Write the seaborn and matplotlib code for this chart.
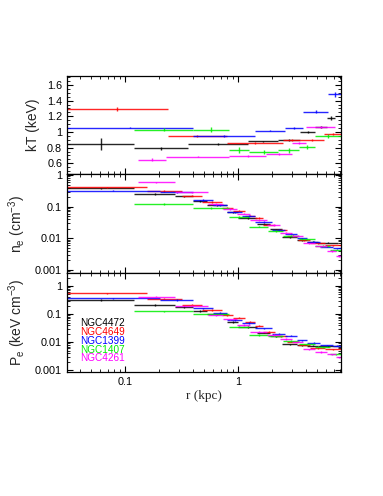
import numpy as np
import matplotlib
matplotlib.use("Agg")
import matplotlib.pyplot as plt
import matplotlib.ticker as mticker
import seaborn as sns

# ---------------- data ----------------
galaxies = ["NGC4472", "NGC4649", "NGC1399", "NGC1407", "NGC4261"]
colors = ["#000000", "#ff0000", "#0000ff", "#00ee00", "#ff00ff"]

# temperature profiles: bin edges (kpc), kT (keV), error
kt_edges = {
    "NGC4472": [0.0305, 0.121, 0.363, 1.233, 2.274, 3.54, 4.80, 6.1, 7.2],
    "NGC4649": [0.0305, 0.239, 0.794, 2.5, 3.54, 5.77, 8.17],
    "NGC1399": [0.0305, 0.402, 1.414, 2.606, 3.78, 6.30, 8.17],
    "NGC1407": [0.121, 0.40, 0.838, 1.259, 2.274, 3.486, 4.80, 8.17],
    "NGC4261": [0.1295, 0.2307, 0.838, 1.77, 2.987, 4.0, 7.21],
}
kt_vals = {
    "NGC4472": [0.843, 0.79, 0.843, 0.88, 0.898, 1.003, 1.065, 1.175],
    "NGC4649": [1.29, 0.949, 0.863, 0.894, 0.90, 0.97],
    "NGC1399": [1.055, 0.952, 1.016, 1.05, 1.26, 1.48],
    "NGC1407": [1.03, 1.03, 0.77, 0.745, 0.766, 0.804, 0.949],
    "NGC4261": [0.646, 0.685, 0.69, 0.715, 0.86, 1.06],
}
kt_errs = {
    "NGC4472": [0.075, 0.015, 0.01, 0.01, 0.012, 0.01, 0.012, 0.025],
    "NGC4649": [0.025, 0.01, 0.015, 0.012, 0.015, 0.015],
    "NGC1399": [0.01, 0.01, 0.01, 0.01, 0.015, 0.035],
    "NGC1407": [0.02, 0.03, 0.04, 0.025, 0.03, 0.025, 0.02],
    "NGC4261": [0.02, 0.01, 0.01, 0.015, 0.012, 0.015],
}

# density / pressure profiles: bin edges (kpc), n_e (cm^-3), P_e (keV cm^-3)
ne_edges = {
    "NGC4472": [0.0305, 0.121, 0.277, 0.40, 0.532, 0.80, 1.0, 1.473, 1.919, 2.45, 3.327, 4.08, 5.10, 7.67],
    "NGC4649": [0.0305, 0.1556, 0.3175, 0.4773, 0.717, 0.903, 1.153, 1.414, 1.664, 2.126, 2.716, 3.396, 4.337, 5.89, 8.17],
    "NGC1399": [0.0305, 0.204, 0.40, 0.601, 0.80, 1.085, 1.414, 2.0, 2.606, 3.327, 4.08, 5.32, 6.93, 8.17],
    "NGC1407": [0.121, 0.40, 0.832, 1.251, 1.843, 2.5, 3.466, 4.80, 6.52, 8.17],
    "NGC4261": [0.1295, 0.2768, 0.543, 0.736, 0.98, 1.277, 1.806, 2.353, 3.005, 3.76, 4.80, 6.13, 7.36, 8.17],
}
ne_vals = {
    "NGC4472": [0.38, 0.25, 0.21, 0.15, 0.11, 0.065, 0.043, 0.029, 0.019, 0.011, 0.0085, 0.0077, 0.0072],
    "NGC4649": [0.41, 0.31, 0.22, 0.138, 0.093, 0.075, 0.052, 0.044, 0.027, 0.018, 0.012, 0.0085, 0.007, 0.006],
    "NGC1399": [0.32, 0.28, 0.16, 0.113, 0.065, 0.05, 0.033, 0.018, 0.014, 0.010, 0.0075, 0.0054, 0.0048],
    "NGC1407": [0.12, 0.091, 0.047, 0.023, 0.017, 0.012, 0.0091, 0.0057, 0.0041],
    "NGC4261": [0.59, 0.28, 0.12, 0.085, 0.06, 0.037, 0.026, 0.015, 0.012, 0.0068, 0.0055, 0.0039, 0.0027],
}
pe_vals = {
    "NGC4472": [0.32, 0.21, 0.18, 0.13, 0.10, 0.052, 0.035, 0.022, 0.016, 0.0085, 0.0078, 0.0074, 0.0072],
    "NGC4649": [0.55, 0.35, 0.21, 0.14, 0.09, 0.075, 0.054, 0.039, 0.024, 0.016, 0.0105, 0.0082, 0.0062, 0.0055],
    "NGC1399": [0.36, 0.32, 0.16, 0.11, 0.062, 0.048, 0.031, 0.02, 0.017, 0.0118, 0.0095, 0.0078, 0.0076],
    "NGC1407": [0.127, 0.097, 0.036, 0.018, 0.016, 0.011, 0.0085, 0.0066, 0.0037],
    "NGC4261": [0.42, 0.2, 0.09, 0.065, 0.041, 0.024, 0.018, 0.013, 0.0103, 0.0055, 0.0045, 0.0037, 0.0029],
}

REL_ERR = 0.05  # drawing style for the small vertical error ticks on log panels

# ---------------- style ----------------
sns.set_theme(style="ticks")
plt.rcParams["font.family"] = ["Liberation Sans", "DejaVu Sans"]
plt.rcParams.update({
    "xtick.direction": "in", "ytick.direction": "in",
    "xtick.top": True, "ytick.right": True,
    "xtick.major.size": 4.5, "ytick.major.size": 4.5,
    "xtick.minor.size": 2.3, "ytick.minor.size": 2.3,
    "xtick.major.width": 0.8, "ytick.major.width": 0.8,
    "xtick.minor.width": 0.6, "ytick.minor.width": 0.6,
    "axes.linewidth": 0.9, "axes.edgecolor": "black",
    "xtick.labelsize": 7.8, "ytick.labelsize": 7.8,
    "xtick.color": "black", "ytick.color": "black",
})

fig = plt.figure(figsize=(3.83, 4.96), dpi=100)
left, right = 67 / 383, 341 / 383
tops = [76, 174, 273]
bots = [174, 273, 372]
axes = []
for t, b in zip(tops, bots):
    ax = fig.add_axes([left, 1 - b / 496, right - left, (b - t) / 496])
    axes.append(ax)


def draw(ax, edges, vals, yerr, color):
    e = np.asarray(edges, float)
    v = np.asarray(vals, float)
    lo, hi = e[:-1], e[1:]
    c = np.sqrt(lo * hi)
    ax.errorbar(c, v, xerr=[c - lo, hi - c], yerr=yerr, fmt="none",
                ecolor=color, elinewidth=1.0, capsize=0, alpha=0.85)


for g, col in zip(galaxies, colors):
    draw(axes[0], kt_edges[g], kt_vals[g], kt_errs[g], col)
    nv = np.asarray(ne_vals[g])
    pv = np.asarray(pe_vals[g])
    draw(axes[1], ne_edges[g], nv, REL_ERR * nv, col)
    draw(axes[2], ne_edges[g], pv, REL_ERR * pv, col)

fmt = mticker.FuncFormatter(lambda v, p: f"{v:g}")
for i, ax in enumerate(axes):
    ax.set_xscale("log")
    ax.set_xlim(0.0306, 8.15)
    ax.xaxis.set_major_locator(mticker.LogLocator(base=10))
    ax.xaxis.set_minor_locator(mticker.LogLocator(base=10, subs=np.arange(2, 10)))
    ax.xaxis.set_minor_formatter(mticker.NullFormatter())
    if i < 2:
        ax.xaxis.set_major_formatter(mticker.NullFormatter())
    else:
        ax.xaxis.set_major_formatter(fmt)
    ax.tick_params(which="both", top=True, right=True)

axes[0].set_ylim(0.463, 1.715)
axes[0].yaxis.set_major_locator(mticker.MultipleLocator(0.2))
axes[0].yaxis.set_minor_locator(mticker.MultipleLocator(0.05))
axes[0].yaxis.set_major_formatter(fmt)
axes[0].set_ylabel("kT (keV)", fontsize=10)

for ax, lim in [(axes[1], (0.00079, 1.075)), (axes[2], (0.00087, 2.9))]:
    ax.set_yscale("log")
    ax.set_ylim(*lim)
    ax.yaxis.set_major_locator(mticker.LogLocator(base=10))
    ax.yaxis.set_minor_locator(mticker.LogLocator(base=10, subs=np.arange(2, 10)))
    ax.yaxis.set_minor_formatter(mticker.NullFormatter())
    ax.yaxis.set_major_formatter(fmt)

axes[1].set_ylabel("n$_\\mathregular{e}$ (cm$^\\mathregular{-3}$)", fontsize=10)
axes[2].set_ylabel("P$_\\mathregular{e}$ (keV cm$^\\mathregular{-3}$)", fontsize=10)
axes[2].set_xlabel("r (kpc)", fontsize=9.5, family=["Liberation Serif", "DejaVu Serif"], labelpad=2)

axes[0].yaxis.set_label_coords(-0.099, 0.5)
axes[1].yaxis.set_label_coords(-0.142, 0.5)
axes[2].yaxis.set_label_coords(-0.142, 0.5)

# legend text
for k, (g, col) in enumerate(zip(galaxies, colors)):
    fig.text(80 / 383, 1 - (323.5 + 8.7 * k) / 496, g, color=col, fontsize=7.2,
             va="center", ha="left")

fig.savefig("out.png", dpi=100)
